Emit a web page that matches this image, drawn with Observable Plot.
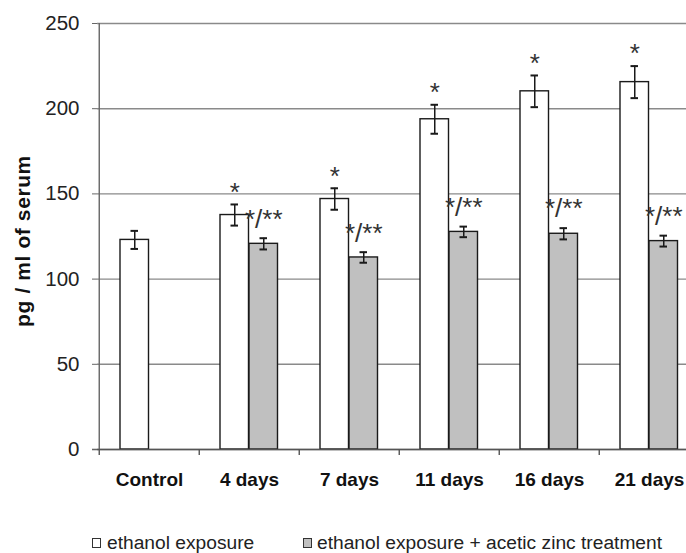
<!DOCTYPE html>
<html><head><meta charset="utf-8">
<script src="https://cdn.jsdelivr.net/npm/d3@7"></script>
<script src="https://cdn.jsdelivr.net/npm/@observablehq/plot@0.6"></script>
<style>
html,body{margin:0;padding:0;background:#fff;overflow:hidden;width:686px;height:553px;}
#wrap{position:relative;width:686px;height:553px;overflow:hidden;font-family:"Liberation Sans",Arial,sans-serif;}
#wrap svg{max-width:none;display:block;}
.legend{position:absolute;top:533px;left:0;width:686px;height:20px;font-size:19.2px;line-height:19px;color:#222;white-space:nowrap;}
.sw{position:absolute;top:5px;width:7px;height:8px;border:1px solid #333;}
.lt{position:absolute;top:0;}
</style></head><body><div id="wrap"></div>
<script>
const categories = ["Control", "4 days", "7 days", "11 days", "16 days", "21 days"];
const ethanol    = [123, 137.6, 147, 193.8, 210.2, 215.6];
const ethanolErr = [5.3, 6.2, 6.3, 8.5, 9.3, 9.4];
const zinc       = [null, 120.7, 112.7, 127.7, 126.6, 122.3];
const zincErr    = [null, 3.3, 3.1, 3.1, 3.3, 3.2];
const ethanolSig = ["", "*", "*", "*", "*", "*"];
const zincSig    = ["", "*/**", "*/**", "*/**", "*/**", "*/**"];
const yTicks = [0, 50, 100, 150, 200, 250];
const yLabel = "pg / ml of serum";
const seriesNames = ["ethanol exposure", "ethanol exposure + acetic zinc treatment"];
const seriesFill = ["#ffffff", "#c0c0c0"];

const W = 700, H = 500, mL = 97, mR = 0, mT = 23, mB = 51;
const innerH = H - mT - mB;
const step = (W - mL - mR) / categories.length;
const gap = 21, barW = 29, capW = 8;
const wIL = gap, wIR = step - gap - barW;
const gIL = gap + barW, gIR = step - gap - 2 * barW;
const wC = gap + barW / 2, gC = gap + barW * 1.5;
const wDx = wC - step / 2, gDx = gC - step / 2;

const rows = categories.map((c, i) => ({cat: c, eth: ethanol[i], ethErr: ethanolErr[i], zn: zinc[i], znErr: zincErr[i], ethSig: ethanolSig[i], znSig: zincSig[i]}));
const znRows = rows.filter(d => d.zn != null);
const ink = "#1a1a1a";

const chart = Plot.plot({
  width: W, height: H,
  marginLeft: mL, marginRight: mR, marginTop: mT, marginBottom: mB,
  style: {fontFamily: '"Liberation Sans", Arial, sans-serif', background: "#fff"},
  x: {type: "band", domain: categories, padding: 0, label: null},
  y: {domain: [yTicks[0], yTicks[yTicks.length - 1]], label: null},
  marks: [
    Plot.gridY(yTicks, {stroke: "#8a8a8a", strokeOpacity: 1, strokeWidth: 1.4}),
    Plot.barY(rows, {x: "cat", y: "eth", fill: seriesFill[0], stroke: ink, strokeWidth: 1.4, insetLeft: wIL, insetRight: wIR}),
    Plot.barY(znRows, {x: "cat", y: "zn", fill: seriesFill[1], stroke: ink, strokeWidth: 1.4, insetLeft: gIL, insetRight: gIR}),
    Plot.ruleX(rows, {x: "cat", y1: d => d.eth - d.ethErr, y2: d => d.eth + d.ethErr, dx: wDx, stroke: ink, strokeWidth: 1.5}),
    Plot.tickY(rows, {x: "cat", y: d => d.eth - d.ethErr, insetLeft: wC - capW / 2, insetRight: step - wC - capW / 2, stroke: ink, strokeWidth: 2}),
    Plot.tickY(rows, {x: "cat", y: d => d.eth + d.ethErr, insetLeft: wC - capW / 2, insetRight: step - wC - capW / 2, stroke: ink, strokeWidth: 2}),
    Plot.ruleX(znRows, {x: "cat", y1: d => d.zn - d.znErr, y2: d => d.zn + d.znErr, dx: gDx, stroke: ink, strokeWidth: 1.5}),
    Plot.tickY(znRows, {x: "cat", y: d => d.zn - d.znErr, insetLeft: gC - capW / 2, insetRight: step - gC - capW / 2, stroke: ink, strokeWidth: 2}),
    Plot.tickY(znRows, {x: "cat", y: d => d.zn + d.znErr, insetLeft: gC - capW / 2, insetRight: step - gC - capW / 2, stroke: ink, strokeWidth: 2}),
    Plot.text(rows, {x: "cat", y: d => d.eth + d.ethErr, text: "ethSig", dx: wDx, dy: -12, fontSize: 26, fill: "#333"}),
    Plot.text(znRows, {x: "cat", y: d => d.zn + d.znErr, text: "znSig", dx: gDx, dy: -19, fontSize: 26, fill: "#333"}),
    Plot.ruleX([categories[0]], {x: d => d, dx: -step / 2, y1: yTicks[0], y2: yTicks[yTicks.length - 1], stroke: "#666", strokeWidth: 1.4}),
    Plot.ruleY([0], {stroke: "#555", strokeWidth: 1.4, insetLeft: -5}),
    Plot.ruleX(categories, {x: d => d, dx: -step / 2, insetTop: innerH, insetBottom: -6, stroke: "#555", strokeWidth: 1.4}),
    Plot.axisY({ticks: yTicks, tickSize: 5, tickPadding: 13, fontSize: 20.5, stroke: "#666", fill: "#222", label: null}),
    Plot.axisX({tickSize: 0, tickPadding: 22.5, fontSize: 19, fontWeight: "bold", fill: "#111", label: null}),
    Plot.text([yLabel], {text: d => d, frameAnchor: "left", textAnchor: "middle", rotate: -90, dx: -74.5, dy: 4.5, fontSize: 21, fontWeight: "bold", fill: "#111"})
  ]
});
const wrap = document.getElementById("wrap");
wrap.appendChild(chart);
d3.select(chart).selectAll("text").filter(function () { return this.textContent === yLabel; }).style("letter-spacing", "0.6px");
d3.select(chart).selectAll('g[aria-label="x-axis tick label"] text').style("font-weight", "bold");

const legend = document.createElement("div");
legend.className = "legend";
const legendPos = [[92, 107], [303, 317]];
seriesNames.forEach((name, i) => {
  const sw = document.createElement("span");
  sw.className = "sw";
  sw.style.left = legendPos[i][0] + "px";
  sw.style.background = seriesFill[i];
  const t = document.createElement("span");
  t.className = "lt";
  t.style.left = legendPos[i][1] + "px";
  t.textContent = name;
  legend.appendChild(sw);
  legend.appendChild(t);
});
wrap.appendChild(legend);
</script>
</body></html>
